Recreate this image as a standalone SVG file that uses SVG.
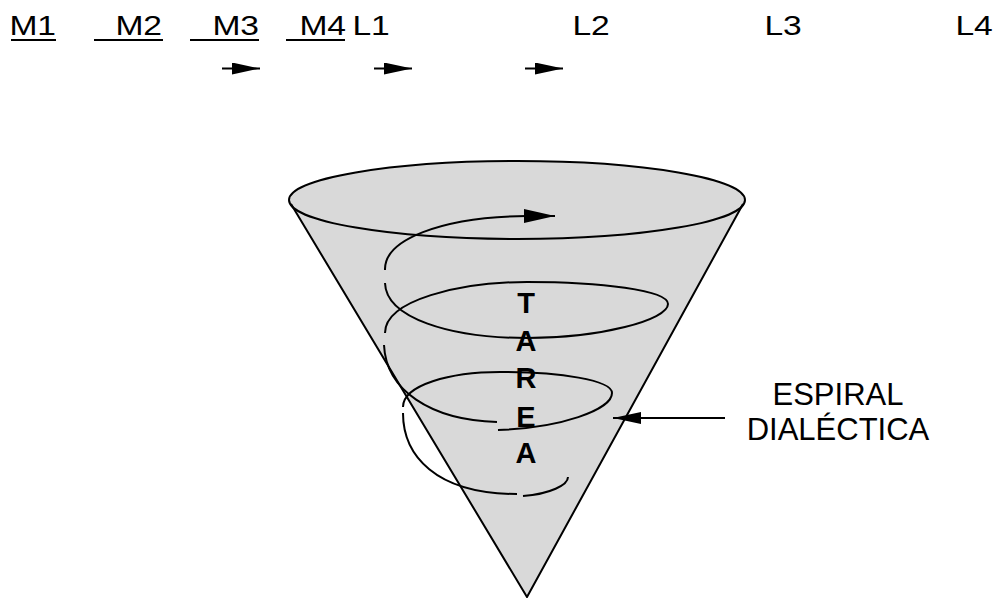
<svg xmlns="http://www.w3.org/2000/svg" width="997" height="598" viewBox="0 0 997 598">
<style>
.lbl{font-family:"Liberation Sans",Arial,sans-serif;font-size:28px;fill:#000}
.big{font-family:"Liberation Sans",Arial,sans-serif;font-size:31px;fill:#000;text-anchor:middle}
.tar{font-family:"Liberation Sans",Arial,sans-serif;font-size:29px;font-weight:bold;fill:#000;text-anchor:middle}
.ul{stroke:#000;stroke-width:2}
.ln{fill:none;stroke:#000;stroke-width:2}
.sp{fill:none;stroke:#000;stroke-width:2;stroke-linecap:butt}
</style>
<defs>
<marker id="ah" markerUnits="userSpaceOnUse" markerWidth="30" markerHeight="14" refX="28" refY="6" orient="auto">
<path d="M0,0 L28,6 L0,12 Z" fill="#000"/>
</marker>
<marker id="ahb" markerUnits="userSpaceOnUse" markerWidth="33" markerHeight="16" refX="31" refY="7" orient="auto">
<path d="M0,0 L31,7 L0,14 Z" fill="#000"/>
</marker>
</defs>
<rect width="997" height="598" fill="#fff"/>
<g id="top-labels">
<text class="lbl" transform="translate(9.4,35) scale(1.2,1)">M1</text>
<text class="lbl" transform="translate(115.4,35) scale(1.2,1)">M2</text>
<text class="lbl" transform="translate(212.4,35) scale(1.2,1)">M3</text>
<text class="lbl" transform="translate(299.4,35) scale(1.2,1)">M4</text>
<text class="lbl" transform="translate(352.4,35) scale(1.2,1)">L1</text>
<text class="lbl" transform="translate(572.4,35) scale(1.2,1)">L2</text>
<text class="lbl" transform="translate(764.4,35) scale(1.2,1)">L3</text>
<text class="lbl" transform="translate(955.4,35) scale(1.2,1)">L4</text>
<line class="ul" x1="11" y1="40" x2="56" y2="40"/>
<line class="ul" x1="94" y1="40" x2="163" y2="40"/>
<line class="ul" x1="190" y1="40" x2="259" y2="40"/>
<line class="ul" x1="286" y1="40" x2="345" y2="40"/>
</g>
<g id="cone">
<path d="M291,204 L527,597 L743,204 Z" fill="#d9d9d9"/>
<ellipse cx="517" cy="200" rx="228" ry="39" fill="#d9d9d9" stroke="#000" stroke-width="2"/>
<path class="ln" d="M291,204 L527,597 L743,204"/>
</g>
<g id="spiral">
<path class="sp" d="M385,270 C384,240 440,217 527,216 L555,216" marker-end="url(#ahb)"/>
<path class="sp" d="M385,283 C386,318 450,338 527,338 C600,338 668,320 668,304 C668,290 600,282 527,282 C460,282 385,300 385,333"/>
<path class="sp" d="M384,345 C386,390 430,420 497,422"/>
<path class="sp" d="M498,430 C560,428 612,410 612,393 C612,380 560,372 500,372 C450,372 403,385 403,407"/>
<path class="sp" d="M403,413 C403,455 435,494 517,494"/>
<path class="sp" d="M523,496 C550,494 568,485 568,477"/>
</g>
<g id="tarea">
<text class="tar" x="526" y="313">T</text>
<text class="tar" x="526" y="351">A</text>
<text class="tar" x="526" y="388">R</text>
<text class="tar" x="526" y="427">E</text>
<text class="tar" x="526" y="463">A</text>
</g>
<g id="espiral">
<text class="big" x="838" y="405">ESPIRAL</text>
<text class="big" x="838" y="440">DIALÉCTICA</text>
</g>
<g id="connectors">
<path class="ln" d="M222,68.5 L260,68.5" marker-end="url(#ah)"/>
<path class="ln" d="M374,68.5 L412,68.5" marker-end="url(#ah)"/>
<path class="ln" d="M525,68.5 L563,68.5" marker-end="url(#ah)"/>
<path class="ln" d="M725,418 L613,418" marker-end="url(#ah)"/>
</g>
</svg>
